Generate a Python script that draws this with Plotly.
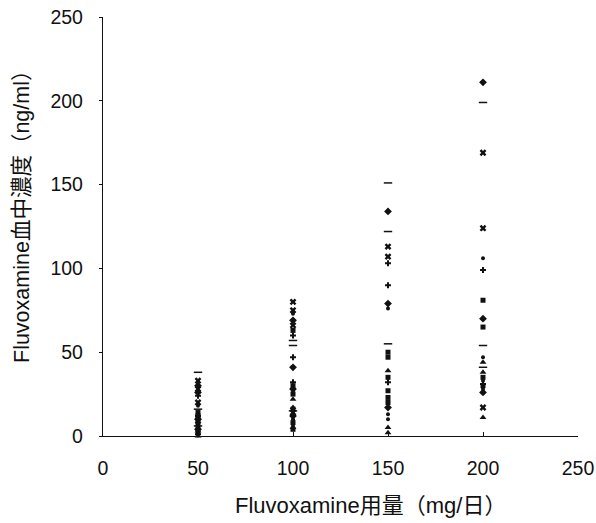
import plotly.graph_objects as go

# dose (mg/day) and plasma concentration (ng/ml), grouped by marker type
cross_x = [50, 50, 50, 50, 100, 100, 100, 100, 150, 150, 200, 200, 200]
cross_y = [33, 28, 20, 9, 80, 75, 66, 14, 113, 107, 169, 124, 17]

diamond_x = [50, 50, 50, 50, 100, 100, 100, 100, 150, 150, 150, 200, 200, 200]
diamond_y = [30, 26, 10, 4, 69, 41, 12, 28, 134, 79, 17, 211, 70, 26]

square_x = [50, 50, 50, 50, 50, 100, 100, 100, 100, 100, 100, 150, 150, 150, 150, 150, 150, 200, 200, 200, 200]
square_y = [14, 8, 5, 2, 12, 63, 30, 25, 8, 4, 16, 50, 47, 35, 27, 20, 23, 81, 65, 35, 30]

tri_x = [50, 50, 50, 100, 100, 100, 150, 150, 150, 200, 200, 200]
tri_y = [11, 3, 0, 22, 17, 5, 39, 5, 2, 44, 38, 11]

dash_x = [50, 50, 50, 100, 100, 100, 150, 150, 150, 200, 200, 200]
dash_y = [38, 16, 6, 57, 54, 15, 151, 122, 55, 199, 54, 41]

plus_x = [50, 50, 50, 100, 100, 100, 150, 150, 150, 200, 200]
plus_y = [24, 12, 1, 60, 47, 32, 103, 90, 32, 99, 31]

dot_x = [50, 50, 50, 100, 100, 100, 100, 150, 150, 150, 200, 200, 200, 200]
dot_y = [18, 7, 13, 73, 27, 10, 6, 76, 13, 10, 106, 47, 33, 28]

x_ticks = [0, 50, 100, 150, 200, 250]
y_ticks = [0, 50, 100, 150, 200, 250]

ink = "#111111"
fig = go.Figure()
series = [
    (cross_x, cross_y, "x", 6),
    (diamond_x, diamond_y, "diamond", 6),
    (square_x, square_y, "square", 5),
    (tri_x, tri_y, "triangle-up", 6),
    (dash_x, dash_y, "line-ew", 6),
    (plus_x, plus_y, "cross", 5),
    (dot_x, dot_y, "circle", 4),
]
for xs, ys, sym, sz in series:
    fig.add_trace(go.Scatter(
        x=xs, y=ys, mode="markers", showlegend=False, cliponaxis=False,
        marker=dict(symbol=sym, size=sz, color=ink,
                    line=dict(color=ink, width=1.5 if sym == "line-ew" else 0)),
    ))

font_fam = "Liberation Sans, Arial, Noto Sans CJK JP, sans-serif"
W, H = 596, 523
L, T = 103, 17
pw, ph = 578 - 103, 436 - 17
R, B = W - L - pw, H - T - ph
fig.update_layout(
    width=W, height=H,
    margin=dict(l=L, r=R, t=T, b=B, autoexpand=False),
    paper_bgcolor="white", plot_bgcolor="white",
    font=dict(family=font_fam, size=19, color=ink),
    xaxis=dict(range=[0, 250], tickvals=x_ticks, showgrid=False, zeroline=False,
               showline=True, linecolor=ink, linewidth=1.3, automargin=False,
               ticks="inside", ticklen=4, tickcolor=ink, tickfont=dict(size=19.5),
               ticklabelstandoff=14, ticklabeloverflow="allow"),
    yaxis=dict(range=[0, 250], tickvals=y_ticks, showgrid=False, zeroline=False,
               showline=True, linecolor=ink, linewidth=1.3, automargin=False,
               ticks="outside", ticklen=3, tickcolor=ink, tickfont=dict(size=19.5),
               ticklabelstandoff=12, ticklabeloverflow="allow"),
    annotations=[
        dict(text="Fluvoxamine用量（mg/日）", xref="paper", yref="paper",
             x=(370 - L) / pw, y=-(505 - (T + ph)) / ph,
             xanchor="center", yanchor="middle",
             showarrow=False, font=dict(size=22)),
        dict(text="Fluvoxamine血中濃度（ng/ml）", xref="paper", yref="paper",
             x=-(L - 22) / pw, y=1 - (212 - T) / ph,
             xanchor="center", yanchor="middle",
             textangle=-90, showarrow=False, font=dict(size=21.5)),
    ],
)
# remove the page's default body margin so the figure fills the window exactly
fig.write_html("out.html",
               config={"displayModeBar": False},
               post_script="document.body.style.margin='0';document.body.style.overflow='hidden';")
